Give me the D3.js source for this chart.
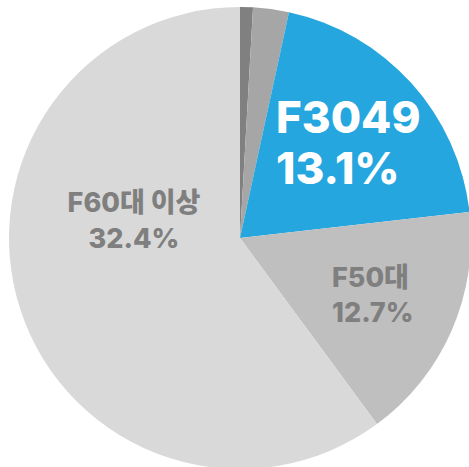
<!DOCTYPE html>
<html>
<head>
<meta charset="utf-8">
<script src="https://cdn.jsdelivr.net/npm/d3@7"></script>
<style>
  body { margin: 0; background: #fff; }
  text { font-family: Inter, "Noto Sans CJK KR", sans-serif; font-weight: 800; }
</style>
</head>
<body>
<svg width="469" height="467"></svg>
<script>
// slice shares (angles), labels as printed
var groups = ["F20이하", "F2029", "F3049", "F50대", "F60대 이상"];
var shares = [0.9, 2.5, 19.8, 16.7, 60.1];
var colors = ["#808080", "#a6a6a6", "#25a6df", "#bfbfbf", "#d9d9d9"];
var labelNames = ["", "", "F3049", "F50대", "F60대 이상"];
var labelPcts = ["", "", "13.1%", "12.7%", "32.4%"];

var svg = d3.select("svg"),
    width = +svg.attr("width"),
    height = +svg.attr("height");

var cx = 240, cy = 238, r = 231;

var pie = d3.pie().sort(null).value(function (d) { return d; });
var arc = d3.arc().innerRadius(0).outerRadius(r);
var arcs = pie(shares);

var g = svg.append("g").attr("transform", "translate(" + cx + "," + cy + ")");

g.selectAll(".slice")
    .data(arcs)
    .enter()
    .append("path")
    .attr("class", "slice")
    .attr("d", arc)
    .style("fill", function (d, i) { return colors[i]; });

// label placement per slice
var labelPos = [
    null, null,
    {x: 276, y: 133, anchor: "start", size: 44, gap: 51, fill: "#ffffff"},
    {x: 332, y: 287, anchor: "start", size: 27, gap: 35, fill: "#7f7f7f"},
    {x: 134, y: 212, anchor: "middle", size: 27, gap: 36, fill: "#7f7f7f"}
];

labelPos.forEach(function (p, i) {
    if (!p) return;
    svg.append("text")
        .attr("x", p.x)
        .attr("y", p.y)
        .attr("text-anchor", p.anchor)
        .style("font-size", p.size + "px")
        .style("fill", p.fill)
        .text(labelNames[i]);
    svg.append("text")
        .attr("x", p.x)
        .attr("y", p.y + p.gap)
        .attr("text-anchor", p.anchor)
        .style("font-size", p.size + "px")
        .style("fill", p.fill)
        .text(labelPcts[i]);
});
</script>
</body>
</html>
